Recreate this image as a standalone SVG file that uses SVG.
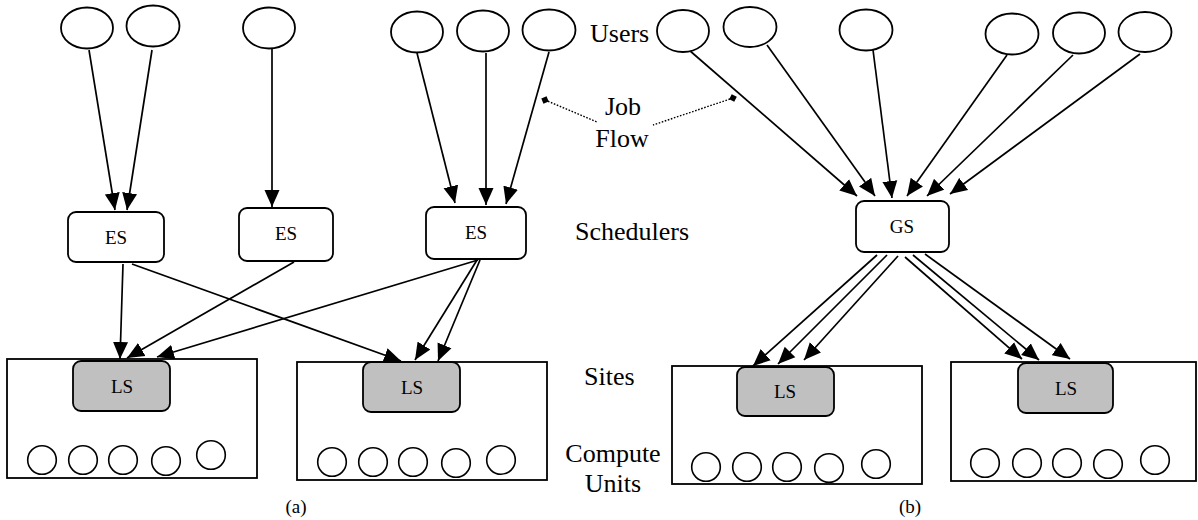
<svg xmlns="http://www.w3.org/2000/svg" width="1198" height="520" viewBox="0 0 1198 520">
  <style>
    .user { fill: #fff; stroke: #000; stroke-width: 1.8; }
    .sched { fill: #fff; stroke: #000; stroke-width: 1.8; }
    .ls { fill: #c0c0c0; stroke: #000; stroke-width: 1.8; }
    .site { fill: #fff; stroke: #000; stroke-width: 1.8; }
    .cu { fill: #fff; stroke: #000; stroke-width: 1.6; }
    .edge { fill: none; stroke: #000; stroke-width: 1.7; marker-end: url(#arrow); }
    .dot { fill: none; stroke: #000; stroke-width: 1.4; stroke-dasharray: 1.6 1.6; marker-start: url(#diamond); }
    text { font-family: 'Liberation Serif', 'DejaVu Serif', serif; fill: #000; }
    .lbl { font-size: 26px; }
    .node { font-size: 19px; text-anchor: middle; }
    .cap { font-size: 19px; text-anchor: middle; }
  </style>
  <defs>
    <marker id="arrow" markerUnits="userSpaceOnUse" markerWidth="18" markerHeight="16" refX="17" refY="8" orient="auto">
      <path d="M0,0.5 L17,8 L0,15.5 z" fill="#000"/>
    </marker>
    <marker id="diamond" markerUnits="userSpaceOnUse" markerWidth="10" markerHeight="10" refX="5" refY="5" orient="auto">
      <path d="M5,1 L9,5 L5,9 L1,5 z" fill="#000"/>
    </marker>
  </defs>

  <!-- connectors -->
  <g id="connectors">
    <!-- (a) users to enterprise schedulers -->
    <line class="edge" x1="89" y1="50" x2="115" y2="210"/>
    <line class="edge" x1="152" y1="50" x2="127" y2="210"/>
    <line class="edge" x1="272" y1="49" x2="272" y2="207"/>
    <line class="edge" x1="417" y1="53" x2="455" y2="203"/>
    <line class="edge" x1="486" y1="53" x2="486" y2="205"/>
    <line class="edge" x1="549" y1="52" x2="506" y2="204"/>
    <!-- (a) schedulers to local schedulers -->
    <line class="edge" x1="123" y1="264" x2="120" y2="359"/>
    <line class="edge" x1="132" y1="264" x2="401" y2="361"/>
    <line class="edge" x1="294" y1="262" x2="127" y2="358"/>
    <line class="edge" x1="478" y1="260" x2="157" y2="357"/>
    <line class="edge" x1="477" y1="260" x2="415" y2="360"/>
    <line class="edge" x1="480" y1="260" x2="438" y2="361"/>
    <!-- (b) users to global scheduler -->
    <line class="edge" x1="689" y1="50" x2="857" y2="196"/>
    <line class="edge" x1="767" y1="45" x2="875" y2="196"/>
    <line class="edge" x1="873" y1="50" x2="892" y2="198"/>
    <line class="edge" x1="1007" y1="55" x2="907" y2="196"/>
    <line class="edge" x1="1073" y1="55" x2="927" y2="196"/>
    <line class="edge" x1="1140" y1="54" x2="950" y2="194"/>
    <!-- (b) global scheduler to local schedulers -->
    <line class="edge" x1="877" y1="255" x2="753" y2="366"/>
    <line class="edge" x1="887" y1="255" x2="778" y2="364"/>
    <line class="edge" x1="898" y1="256" x2="804" y2="360"/>
    <line class="edge" x1="905" y1="257" x2="1022" y2="359"/>
    <line class="edge" x1="913" y1="255" x2="1039" y2="360"/>
    <line class="edge" x1="925" y1="254" x2="1070" y2="359"/>
    <!-- local schedulers to compute units -->
    <line class="edge" x1="96" y1="412" x2="85" y2="446"/>
    <line class="edge" x1="121" y1="412" x2="127" y2="447"/>
    <line class="edge" x1="145" y1="408" x2="203" y2="445"/>
    <line class="edge" x1="386" y1="413" x2="375" y2="447"/>
    <line class="edge" x1="411" y1="413" x2="417" y2="448"/>
    <line class="edge" x1="435" y1="409" x2="493" y2="446"/>
    <line class="edge" x1="759" y1="417" x2="749" y2="451"/>
    <line class="edge" x1="786" y1="417" x2="792" y2="452"/>
    <line class="edge" x1="809" y1="414" x2="867" y2="452"/>
    <line class="edge" x1="1040" y1="413" x2="1030" y2="447"/>
    <line class="edge" x1="1066" y1="413" x2="1072" y2="448"/>
    <line class="edge" x1="1090" y1="410" x2="1148" y2="447"/>
    <!-- job flow pointers -->
    <line class="dot" x1="545" y1="100" x2="597" y2="122"/>
    <line class="dot" x1="733" y1="98" x2="653" y2="125"/>
  </g>

  <!-- users -->
  <g id="users-a">
    <ellipse class="user" cx="87" cy="28" rx="26" ry="20.5"/>
    <ellipse class="user" cx="153" cy="26" rx="26.5" ry="20.5"/>
    <ellipse class="user" cx="269" cy="28" rx="26" ry="20.5"/>
    <ellipse class="user" cx="417" cy="32" rx="26" ry="20.5"/>
    <ellipse class="user" cx="483" cy="31" rx="26" ry="20.5"/>
    <ellipse class="user" cx="549" cy="30" rx="26.5" ry="20.5"/>
  </g>
  <g id="users-b">
    <ellipse class="user" cx="683" cy="31" rx="26" ry="21"/>
    <ellipse class="user" cx="750" cy="27" rx="26.5" ry="20"/>
    <ellipse class="user" cx="866" cy="30" rx="26.5" ry="20.5"/>
    <ellipse class="user" cx="1012" cy="34" rx="26.5" ry="20.5"/>
    <ellipse class="user" cx="1079" cy="33" rx="26" ry="20.5"/>
    <ellipse class="user" cx="1145" cy="32" rx="26.5" ry="20"/>
  </g>

  <!-- schedulers -->
  <g id="es-1">
    <rect class="sched" x="68" y="212" width="96" height="50" rx="8"/>
    <text class="node" x="116" y="244">ES</text>
  </g>
  <g id="es-2">
    <rect class="sched" x="239" y="208" width="94" height="53" rx="8"/>
    <text class="node" x="286" y="240">ES</text>
  </g>
  <g id="es-3">
    <rect class="sched" x="426" y="207" width="100" height="52" rx="8"/>
    <text class="node" x="476" y="239">ES</text>
  </g>
  <g id="gs">
    <rect class="sched" x="856" y="201" width="93" height="51" rx="8"/>
    <text class="node" x="902" y="233">GS</text>
  </g>

  <!-- sites -->
  <g id="site-1">
    <rect class="site" x="7" y="359" width="250" height="119"/>
    <rect class="ls" x="73" y="361" width="97" height="50" rx="8"/>
    <text class="node" x="122" y="393">LS</text>
    <circle class="cu" cx="42" cy="460" r="14.3"/>
    <circle class="cu" cx="83" cy="460" r="14.3"/>
    <circle class="cu" cx="123" cy="460" r="14.3"/>
    <circle class="cu" cx="166" cy="461" r="14.3"/>
    <circle class="cu" cx="211" cy="455" r="14.3"/>
  </g>
  <g id="site-2">
    <rect class="site" x="297" y="362" width="250" height="118"/>
    <rect class="ls" x="363" y="362" width="97" height="50" rx="8"/>
    <text class="node" x="412" y="394">LS</text>
    <circle class="cu" cx="332" cy="462" r="14.3"/>
    <circle class="cu" cx="373" cy="462" r="14.3"/>
    <circle class="cu" cx="413" cy="462" r="14.3"/>
    <circle class="cu" cx="456" cy="463" r="14.3"/>
    <circle class="cu" cx="501" cy="460" r="14.3"/>
  </g>
  <g id="site-3">
    <rect class="site" x="672" y="366" width="250" height="118"/>
    <rect class="ls" x="737" y="367" width="97" height="49" rx="8"/>
    <text class="node" x="785" y="398">LS</text>
    <circle class="cu" cx="706" cy="467" r="14.3"/>
    <circle class="cu" cx="747" cy="467" r="14.3"/>
    <circle class="cu" cx="787" cy="467" r="14.3"/>
    <circle class="cu" cx="829" cy="468" r="14.3"/>
    <circle class="cu" cx="876" cy="464" r="14.3"/>
  </g>
  <g id="site-4">
    <rect class="site" x="951" y="362" width="245" height="119"/>
    <rect class="ls" x="1018" y="363" width="95" height="50" rx="8"/>
    <text class="node" x="1066" y="395">LS</text>
    <circle class="cu" cx="985" cy="463" r="14.3"/>
    <circle class="cu" cx="1027" cy="463" r="14.3"/>
    <circle class="cu" cx="1067" cy="463" r="14.3"/>
    <circle class="cu" cx="1108" cy="464" r="14.3"/>
    <circle class="cu" cx="1155" cy="460" r="14.3"/>
  </g>

  <!-- tier labels -->
  <g id="labels">
    <text class="lbl" x="590" y="42">Users</text>
    <text class="lbl" x="623" y="115" text-anchor="middle">Job</text>
    <text class="lbl" x="622" y="147" text-anchor="middle">Flow</text>
    <text class="lbl" x="575" y="240">Schedulers</text>
    <text class="lbl" x="584" y="385">Sites</text>
    <text class="lbl" x="613" y="462" text-anchor="middle">Compute</text>
    <text class="lbl" x="613" y="492" text-anchor="middle">Units</text>
    <text class="cap" x="296" y="513">(a)</text>
    <text class="cap" x="910" y="513">(b)</text>
  </g>
</svg>
